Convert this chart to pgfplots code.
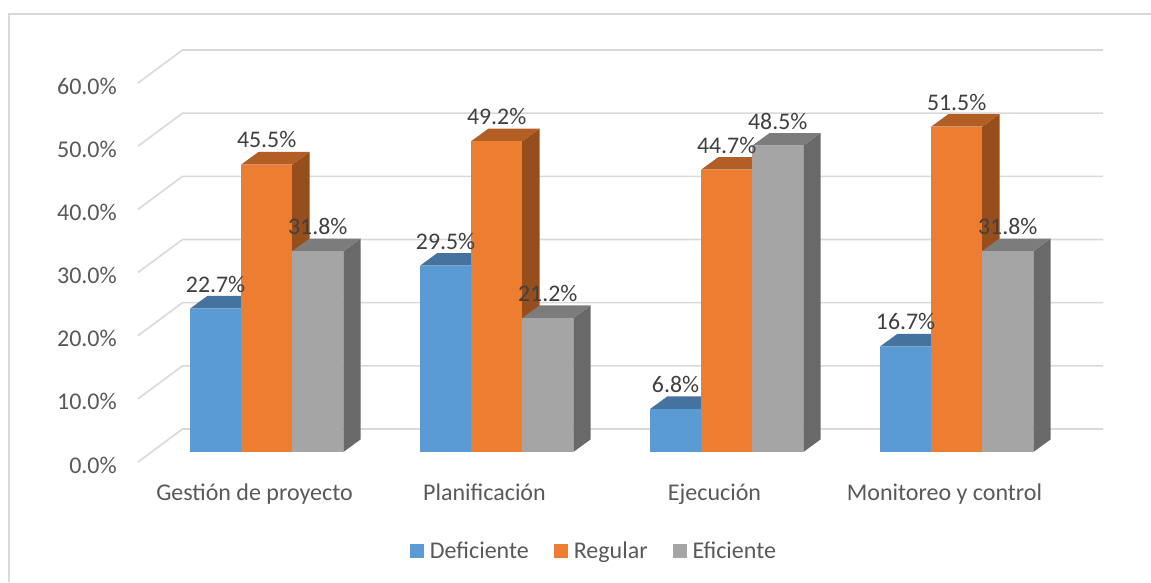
\documentclass[border=0pt]{standalone}
\usepackage{fontspec}
\setmainfont{Carlito}
\usepackage{pgfplots}
\pgfplotsset{compat=1.18}

\definecolor{gridgrey}{HTML}{D9D9D9}
\definecolor{ticktext}{HTML}{595959}
\definecolor{valuetext}{HTML}{404040}
\definecolor{blueF}{HTML}{5B9BD5}
\definecolor{blueT}{HTML}{44739F}
\definecolor{blueS}{HTML}{3A6A94}
\definecolor{orangeF}{HTML}{ED7D31}
\definecolor{orangeT}{HTML}{B25E24}
\definecolor{orangeS}{HTML}{964F1C}
\definecolor{greyF}{HTML}{A5A5A5}
\definecolor{greyT}{HTML}{7C7C7C}
\definecolor{greyS}{HTML}{696969}

% Back-wall grid line at a given value, with its slanted floor-side return
\newcommand{\wallline}[1]{%
  \pgfmathsetmacro{\wy}{#1+5.22}%
  \addplot[gridgrey, line width=1.6pt, forget plot]
    coordinates {(-0.5,#1) (-0.3065,\wy) (3.6957,\wy)};
}

% One prism: #1 left edge of the front face, #2 value, #3 colour prefix
\newcommand{\prism}[3]{%
  \pgfmathsetmacro{\xa}{#1}%
  \pgfmathsetmacro{\xb}{#1+0.2222}%
  \pgfmathsetmacro{\xc}{#1+0.2222+0.0754}%
  \pgfmathsetmacro{\xd}{#1+0.0754}%
  \pgfmathsetmacro{\yb}{1.58}%
  \pgfmathsetmacro{\yt}{#2+1.58}%
  \pgfmathsetmacro{\ybb}{1.58+2.0}%
  \pgfmathsetmacro{\ytb}{#2+1.58+2.0}%
  \addplot[fill=#3S, draw=none, forget plot]
    coordinates {(\xb,\yb) (\xc,\ybb) (\xc,\ytb) (\xb,\yt)} -- cycle;
  \addplot[fill=#3T, draw=none, forget plot]
    coordinates {(\xa,\yt) (\xd,\ytb) (\xc,\ytb) (\xb,\yt)} -- cycle;
  \addplot[fill=#3F, draw=none, forget plot]
    coordinates {(\xa,\yb) (\xb,\yb) (\xb,\yt) (\xa,\yt)} -- cycle;
}

% Value label above the front face of a prism
\newcommand{\barlabel}[2]{%
  \pgfmathsetmacro{\lx}{#1+0.1111}%
  \pgfmathsetmacro{\ly}{#2+1.58+3.9}%
  \edef\temp{\noexpand\node[text=valuetext, font=\noexpand\fontsize{23.8}{26}\noexpand\selectfont, anchor=center, inner sep=0pt]
    at (axis cs:\lx,\ly) {#2\noexpand\%};}%
  \temp
}

% One category: #1 index, then the three series values
\newcommand{\group}[4]{%
  \pgfmathsetmacro{\xzero}{#1-0.2739}%
  \pgfmathsetmacro{\xone}{#1-0.2739+0.2222}%
  \pgfmathsetmacro{\xtwo}{#1-0.2739+0.4444}%
  \edef\pa{\xzero}\edef\pb{\xone}\edef\pc{\xtwo}%
  \prism{\pa}{#2}{blue}%
  \prism{\pb}{#3}{orange}%
  \prism{\pc}{#4}{grey}%
  \barlabel{\pa}{#2}%
  \barlabel{\pb}{#3}%
  \barlabel{\pc}{#4}%
}

\begin{document}
\begin{tikzpicture}[x=1pt,y=1pt]
\useasboundingbox (-138,-120) rectangle (1013,462);
\begin{axis}[
  at={(0,0)}, anchor=south west,
  width=965pt, height=412pt, scale only axis,
  xmin=-0.5, xmax=3.6957,
  ymin=0, ymax=65.22,
  clip=false,
  axis line style={draw=none},
  major tick length=0pt,
  minor tick num=0,
  xtick={0,1,2,3},
  xticklabels={Gestión de proyecto,Planificación,Ejecución,Monitoreo y control},
  ytick={0,10,20,30,40,50,60},
  yticklabels={0.0\%,10.0\%,20.0\%,30.0\%,40.0\%,50.0\%,60.0\%},
  tick label style={font=\fontsize{24}{26}\selectfont, text=ticktext},
  yticklabel style={anchor=east, inner sep=0pt, xshift=-21pt, yshift=-3pt},
  xticklabel style={anchor=center, inner sep=0pt, text height=15pt, text depth=5pt, yshift=-33.7pt, xshift=1.5pt},
  legend columns=3,
  legend cell align=left,
  legend style={
    at={(0.4725,-0.216)}, anchor=center, draw=none, fill=none,
    font=\fontsize{24}{26}\selectfont, text=ticktext,
    /tikz/every odd column/.style={column sep=4pt},
    /tikz/every even column/.style={column sep=23pt},
    inner sep=0pt,
  },
  legend image code/.code={\fill[#1] (0pt,-7pt) rectangle (14pt,7pt);},
]
% outer chart border, open on the right and at the bottom
\addplot[gridgrey, line width=1.6pt, forget plot]
  coordinates {(-1.0609,-19) (-1.0609,70.92) (3.904,70.92)};

\wallline{0}
\wallline{10}
\wallline{20}
\wallline{30}
\wallline{40}
\wallline{50}
\wallline{60}

\group{0}{22.7}{45.5}{31.8}
\group{1}{29.5}{49.2}{21.2}
\group{2}{6.8}{44.7}{48.5}
\group{3}{16.7}{51.5}{31.8}

\addlegendimage{fill=blueF, draw=none}
\addlegendentry{Deficiente}
\addlegendimage{fill=orangeF, draw=none}
\addlegendentry{Regular}
\addlegendimage{fill=greyF, draw=none}
\addlegendentry{Eficiente}
\end{axis}
\end{tikzpicture}
\end{document}
